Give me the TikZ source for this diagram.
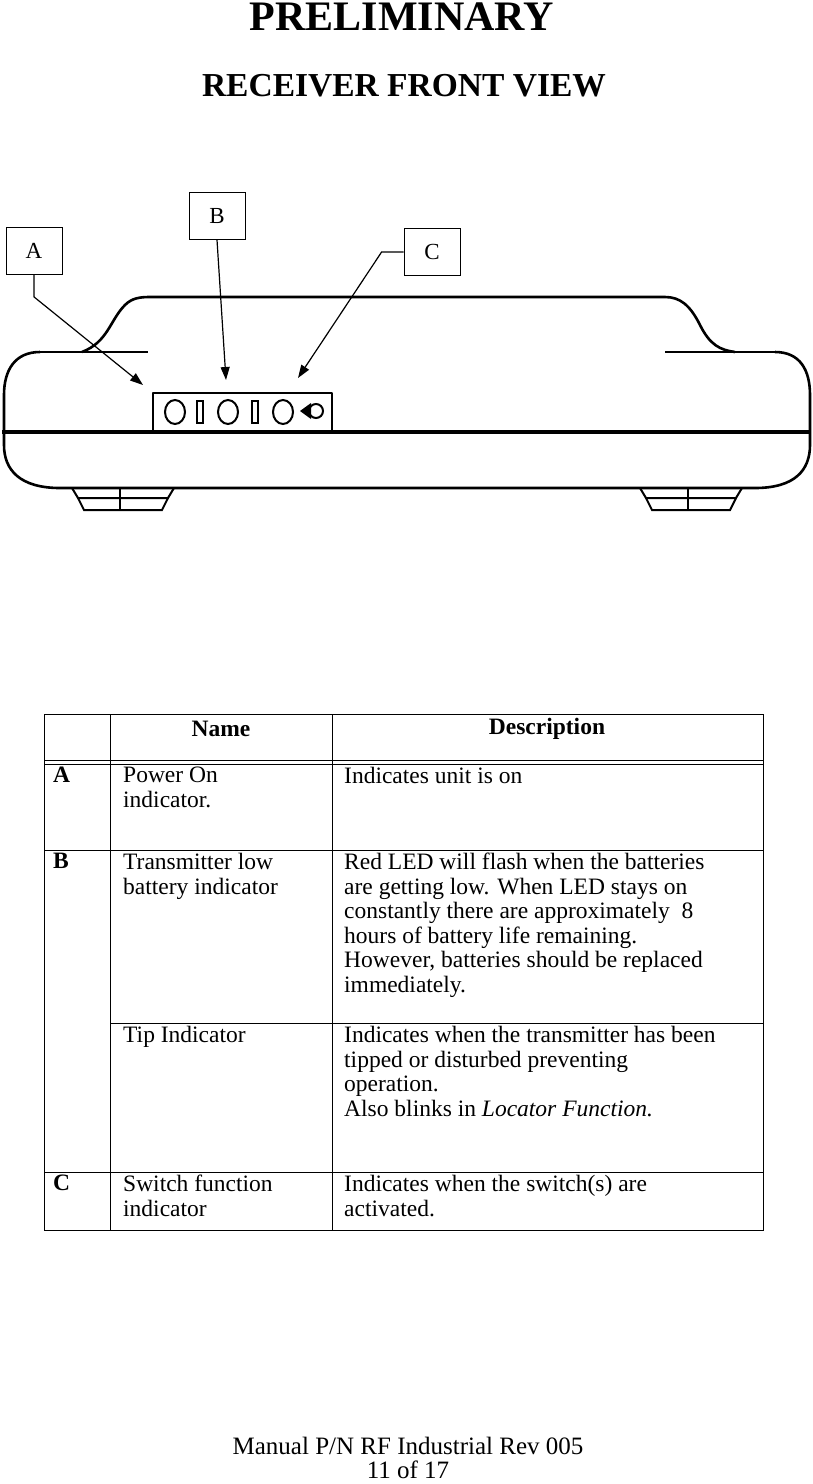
\documentclass[tikz,border=0pt]{standalone}
\usepackage{fontspec}
\setmainfont{Liberation Serif}
\usetikzlibrary{arrows.meta}
\tikzstyle{callout} = [draw, thick, minimum width=56pt, minimum height=47pt, font=\fontsize{23}{25}\selectfont]
\tikzstyle{pointer} = [draw, line width=1.2pt, -{Triangle[length=13pt,width=9pt]}]
\tikzstyle{cell} = [anchor=north west, align=left, inner sep=3pt, font=\fontsize{23.5}{24.5}\selectfont]
\tikzstyle{body} = [draw, line width=2.6pt, line join=round]
\begin{document}
\begin{tikzpicture}[x=1pt, y=-1pt]
\useasboundingbox (0,0) rectangle (813,1484);

% Headings

\node (title) at (402,17) {\fontsize{42}{44}\selectfont\bfseries PRELIMINARY};
\node (subtitle) at (404,86) {\fontsize{33.5}{35}\selectfont\bfseries RECEIVER FRONT VIEW};

% Receiver

\draw[body] (40,352) -- (148,352);
\draw[body] (665,352) -- (775,352);
\draw[body] (82,352) .. controls (108,342) and (110,320) .. (125,305) .. controls (132,298) and (140,297) .. (150,297)
  -- (665,297) .. controls (680,297) and (690,305) .. (700,325) .. controls (710,345) and (720,350) .. (735,352);
\draw[body] (40,352) .. controls (15,352) and (4,370) .. (4,395) -- (4,445) .. controls (4,470) and (20,488) .. (60,488)
  -- (755,488) .. controls (795,488) and (810,470) .. (810,445) -- (810,395) .. controls (810,370) and (800,352) .. (775,352);
\draw[line width=4.5pt] (2,432) -- (811,432);
\draw[body] (153,432) -- (153,393) -- (332,393) -- (332,432);
\foreach \cx in {175,228,283} \draw[line width=2pt] (\cx,412) ellipse (10pt and 12pt);
\foreach \bx in {200,255} \draw[line width=2pt] (\bx-3,401) rectangle (\bx+3,423);
\draw[line width=2pt] (316,411) circle (7pt);
\fill (300,411) -- (311,403) -- (311,419) -- cycle;
\foreach \fx in {72,640} {
  \draw[line width=2pt] (\fx,488) -- (\fx+6,498) -- (\fx+96,498) -- (\fx+102,488);
  \draw[line width=2pt] (\fx+6,498) -- (\fx+12,510) -- (\fx+90,510) -- (\fx+96,498);
  \draw[line width=2pt] (\fx+48,488) -- (\fx+48,510);
}

% Callouts

\node[callout] (a) at (34,251) {A};
\node[callout] (b) at (217,216) {B};
\node[callout] (c) at (432,252) {C};
\coordinate (ledA) at (143,385);
\coordinate (ledB) at (226,380);
\coordinate (ledC) at (298,378);
\draw[pointer] (a.south) -- ++(0,22) -- (ledA);
\draw[pointer] (b.south) -- (ledB);
\draw[pointer] (c.west) -- ++(-22,0) -- (ledC);

% Table

\draw (44,714) rectangle (763,1230);
\foreach \cx in {110,332} \draw (\cx,714) -- (\cx,1230);
\draw (44,760) -- (763,760);
\draw (44,764) -- (763,764);
\draw (44,850) -- (763,850);
\draw (110,1023) -- (763,1023);
\draw (44,1172) -- (763,1172);

\node[font=\fontsize{23.5}{24}\selectfont\bfseries] (hname) at (221,729) {Name};
\node[font=\fontsize{23.5}{24}\selectfont\bfseries] (hdesc) at (547,729) {Description};

\node[cell, font=\fontsize{23.5}{24}\selectfont\bfseries] (ka) at (50,764) {A};
\node[cell] (na) at (120,764) {Power On\\indicator.};
\node[cell] (da) at (341,764) {Indicates unit is on};

\node[cell, font=\fontsize{23.5}{24}\selectfont\bfseries] (kb) at (50,850) {B};
\node[cell] (nb) at (120,850) {Transmitter low\\battery indicator};
\node[cell] (db) at (341,850) {Red LED will flash when the batteries\\are getting low. When LED stays on\\constantly there are approximately~ 8\\hours of battery life remaining.\\However, batteries should be replaced\\immediately.};
\node[cell] (nt) at (120,1023) {Tip Indicator};
\node[cell] (dt) at (341,1023) {Indicates when the transmitter has been\\tipped or disturbed preventing\\operation.\\Also blinks in \textit{Locator Function.}};

\node[cell, font=\fontsize{23.5}{24}\selectfont\bfseries] (kc) at (50,1172) {C};
\node[cell] (nc) at (120,1172) {Switch function\\indicator};
\node[cell] (dc) at (341,1172) {Indicates when the switch(s) are\\activated.};

% Footer

\node[align=center, font=\fontsize{25}{24}\selectfont] (footer) at (408,1458) {Manual P/N RF Industrial Rev 005\\11 of 17};

\end{tikzpicture}
\end{document}
